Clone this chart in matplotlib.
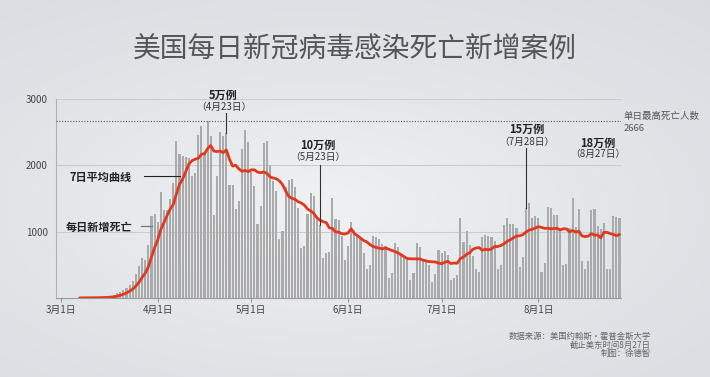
import numpy as np
import pandas as pd
import matplotlib
matplotlib.use("Agg")
import matplotlib.pyplot as plt
from matplotlib.colors import LinearSegmentedColormap

plt.rcParams['font.family'] = ['Noto Sans CJK SC', 'DejaVu Sans']

# Daily new deaths, 2020-03-01 .. 2020-08-27
dates = pd.date_range("2020-03-01", "2020-08-27", freq="D")
deaths = [
    1, 1, 5, 1, 4, 1, 2, 3, 4, 5,
    4, 8, 7, 10, 9, 20, 30, 50, 70, 95,
    120, 150, 200, 260, 360, 480, 600, 580, 800, 1240,
    1260, 1150, 1600, 1330, 1320, 1490, 1730, 2370, 2170, 2140,
    2130, 2110, 1840, 1890, 2460, 2600, 2200, 2666, 2440, 1250,
    1840, 2510, 2440, 2480, 1700, 1700, 1340, 1460, 2250, 2530,
    2350, 1900, 1690, 1110, 1390, 2330, 2370, 2000, 1770, 1616,
    882, 1009, 1667, 1778, 1794, 1667, 1362, 755, 780, 1262,
    1576, 1541, 1200, 1100, 603, 679, 700, 1515, 1184, 1170,
    932, 577, 780, 1150, 1018, 957, 907, 679, 436, 502,
    942, 917, 882, 821, 780, 302, 380, 831, 765, 679,
    628, 577, 274, 375, 831, 765, 552, 552, 491, 248,
    360, 730, 679, 715, 644, 264, 299, 340, 1211, 846,
    1008, 806, 628, 436, 390, 922, 957, 942, 917, 866,
    436, 502, 1100, 1211, 1110, 1120, 1050, 467, 620, 1363,
    1429, 1211, 1236, 1200, 390, 527, 1373, 1363, 1246, 1246,
    1050, 502, 517, 1059, 1505, 1074, 1338, 552, 436, 562,
    1328, 1348, 1084, 1034, 1135, 436, 436, 1237, 1220, 1200,
]
max_daily = 2666

milestone_labels = ["5万例", "10万例", "15万例", "18万例"]
milestone_dates = ["4月23日", "5月23日", "7月28日", "8月27日"]
milestone_days = ["2020-04-23", "2020-05-23", "2020-07-28", "2020-08-27"]

s = pd.Series(deaths, index=dates)
avg7 = s.rolling(7).mean()
x = np.arange(len(s))

fig = plt.figure(figsize=(7.1, 3.77), dpi=100)

# soft grey background
bg = fig.add_axes([0, 0, 1, 1], zorder=-10)
gx, gy = np.meshgrid(np.linspace(0, 1, 300), np.linspace(0, 1, 200))
r = np.sqrt(((gx - 0.45) / 0.9) ** 2 + ((gy - 0.55) / 0.8) ** 2)
cmap = LinearSegmentedColormap.from_list("bg", ["#eff1f3", "#e3e6e9", "#d9dce0"])
bg.imshow(r, cmap=cmap, aspect="auto", extent=[0, 1, 0, 1], vmin=0, vmax=0.9)
bg.axis("off")

ax = fig.add_axes([56 / 710, 79 / 377, 565 / 710, 199 / 377])
ax.patch.set_alpha(0)

ax.bar(x, s.values, width=0.68, color="#aaaaaa", zorder=2)
ax.plot(x, avg7.values, color="#e2381f", lw=2.0, zorder=4, solid_capstyle="round")

ax.set_xlim(-1.6, 179.5)
ax.set_ylim(0, 3000)
ax.set_yticks([1000, 2000, 3000])
ax.set_yticklabels(["1000", "2000", "3000"], fontsize=7, color="#444")
for v in [1000, 2000, 3000]:
    ax.axhline(v, color="#c9cbce", lw=0.8, zorder=1)

month_starts = np.where(dates.day == 1)[0]
ax.set_xticks(month_starts)
ax.set_xticklabels([f"{d.month}月1日" for d in dates[month_starts]], fontsize=7, color="#444")
ax.tick_params(axis="y", length=0, pad=6)
ax.tick_params(axis="x", length=3, color="#999", pad=2)

for side in ["top", "right"]:
    ax.spines[side].set_visible(False)
ax.spines["left"].set_color("#b0b0b0")
ax.spines["bottom"].set_color("#999999")
ax.spines["left"].set_linewidth(0.8)
ax.spines["bottom"].set_linewidth(0.8)

# record day line
ax.axhline(max_daily, color="#555", lw=0.8, ls=(0, (1, 1.5)), zorder=3)
ax.text(180.3, 2730, "单日最高死亡人数", fontsize=6.8, color="#555", va="center", clip_on=False)
ax.text(180.3, 2555, str(max_daily), fontsize=6.8, color="#555", va="center", clip_on=False)

# milestones: (label x offset, bold label y, date label y, line top y, line x offset)
layout = [
    (-0.9, 3050, 2880, 2790, 0.0),
    (-0.8, 2300, 2120, 2010, 0.0),
    (0.4, 2535, 2360, 2265, 0.0),
    (-6.8, 2335, 2170, 2010, 0.8),
]
for lab, dl, day, (dx, y1, y2, ytop, lx) in zip(milestone_labels, milestone_dates, milestone_days, layout):
    i = dates.get_loc(pd.Timestamp(day))
    ax.text(i + dx, y1, lab, ha="center", va="center", fontsize=8, fontweight="bold",
            color="#222", clip_on=False)
    ax.text(i + dx, y2, f"（{dl}）", ha="center", va="center", fontsize=7, color="#333",
            clip_on=False)
    ax.plot([i + lx, i + lx], [ytop, s.iloc[i]], color="#333", lw=0.8, zorder=5)

# legend-like callouts
ax.text(22.8, 1815, "7日平均曲线", ha="right", va="center", fontsize=8, fontweight="bold", color="#222")
ax.plot([26.6, 38.0], [1840, 1840], color="#222", lw=0.8, zorder=5)
ax.text(22.8, 1060, "每日新增死亡", ha="right", va="center", fontsize=8, fontweight="bold", color="#222")
ax.plot([25.6, 29.2], [1090, 1090], color="#777", lw=0.9, zorder=5)

fig.text(355 / 710, 1 - 50 / 377, "美国每日新冠病毒感染死亡新增案例", ha="center", va="center",
         fontsize=20, color="#555", fontweight="light")

fig.text(651 / 710, 1 - 336.5 / 377, "数据来源：美国约翰斯·霍普金斯大学", ha="right", va="center",
         fontsize=6, color="#666")
fig.text(651 / 710, 1 - 345 / 377, "截止美东时间8月27日", ha="right", va="center", fontsize=6, color="#666")
fig.text(651 / 710, 1 - 353.5 / 377, "制图：徐德智", ha="right", va="center", fontsize=6, color="#666")

fig.savefig("out.png", dpi=100)
